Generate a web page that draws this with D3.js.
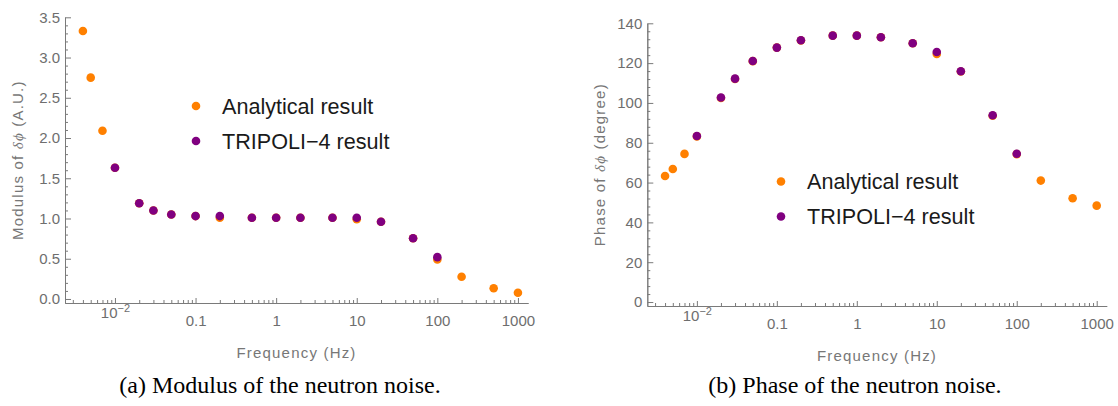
<!DOCTYPE html>
<html>
<head>
<meta charset="utf-8">
<script src="https://cdn.jsdelivr.net/npm/d3@7"></script>
<style>
  body { margin: 0; background: #fff; }
  svg { display: block; }
  .tick text { font-family: "Liberation Sans", Arial, sans-serif; font-size: 15px; fill: #6e6e6e; }
</style>
</head>
<body>
<div id="chart"></div>
<script>
// frequencies (Hz)
var freq = [0.004, 0.005, 0.007, 0.01, 0.02, 0.03, 0.05, 0.1, 0.2, 0.5, 1, 2, 5, 10, 20, 50, 100, 200, 500, 1000];
var tripoliFreq = [0.01, 0.02, 0.03, 0.05, 0.1, 0.2, 0.5, 1, 2, 5, 10, 20, 50, 100];

// modulus of delta phi (A.U.)
var modAnalytical = [3.33, 2.75, 2.09, 1.63, 1.19, 1.10, 1.05, 1.03, 1.01, 1.01, 1.01, 1.01, 1.01, 0.99, 0.96, 0.754, 0.49, 0.277, 0.133, 0.078];
var modTripoli = [1.63, 1.19, 1.10, 1.05, 1.03, 1.03, 1.01, 1.01, 1.01, 1.01, 1.01, 0.96, 0.754, 0.52];

// phase of delta phi (degree)
var phaseAnalytical = [63.3, 66.8, 74.4, 83.2, 102.5, 112.0, 121.0, 127.8, 131.4, 133.8, 133.8, 133.0, 130.0, 124.6, 115.8, 93.6, 74.3, 61.0, 52.1, 48.4];
var phaseTripoli = [83.4, 102.7, 112.2, 121.1, 127.8, 131.5, 133.8, 133.8, 133.0, 130.0, 125.6, 115.9, 93.8, 74.5];

var xMajor = [0.01, 0.1, 1, 10, 100, 1000];
var xLabels = ["10-2", "0.1", "1", "10", "100", "1000"];
var modTicks = [0, 0.5, 1, 1.5, 2, 2.5, 3, 3.5];
var phaseTicks = [0, 20, 40, 60, 80, 100, 120, 140];
var seriesNames = ["Analytical result", "TRIPOLI\u22124 result"];
var captions = ["(a)  Modulus of the neutron noise.", "(b)  Phase of the neutron noise."];

var orange = "#ff8000", purple = "#800080", axisGray = "#7a7a7a", labelGray = "#777";

var svg = d3.select("#chart").append("svg")
    .attr("width", 1118)
    .attr("height", 406);

// minor log ticks 2..9 per decade
var xMinor = [];
for (var e = -3; e <= 2; e++) {
  for (var m = 2; m <= 9; m++) {
    var v = m * Math.pow(10, e);
    if (v > 0.0025 && v < 1300) xMinor.push(v);
  }
}

function drawPanel(p) {
  var g = svg.append("g");

  var x = d3.scaleLog()
      .domain([Math.pow(10, -2.62), Math.pow(10, 3.125)])
      .range([p.left, p.right]);
  var y = d3.scaleLinear()
      .domain(p.yDomain)
      .range([p.bottom, p.top]);

  // x axis minor + major
  g.append("g")
      .attr("transform", "translate(0," + p.bottom + ")")
      .call(d3.axisBottom(x).tickValues(xMinor).tickSize(-3).tickSizeOuter(0).tickFormat(""));
  var xa = g.append("g")
      .attr("transform", "translate(0," + p.bottom + ")")
      .call(d3.axisBottom(x).tickValues(xMajor).tickSize(-5).tickSizeOuter(0).tickPadding(12)
        .tickFormat(function(d, i) { return xLabels[i]; }));
  xa.selectAll(".tick text").filter(function(d) { return d === 0.01; })
      .text(null)
      .call(function(t) {
        t.append("tspan").attr("dy", "0.2em").text("10");
        t.append("tspan").attr("dy", "-0.55em").attr("font-size", "11px").text("\u22122");
      });

  // y axis minor + major
  g.append("g")
      .attr("transform", "translate(" + p.left + ",0)")
      .call(d3.axisLeft(y).tickValues(p.yMinor).tickSize(-3).tickSizeOuter(0).tickFormat(""));
  g.append("g")
      .attr("transform", "translate(" + p.left + ",0)")
      .call(d3.axisLeft(y).tickValues(p.yTicks).tickSize(-6).tickSizeOuter(0).tickPadding(5)
        .tickFormat(p.yFormat));

  g.selectAll(".domain, .tick line").attr("stroke", axisGray);

  // axis titles
  g.append("text")
      .attr("x", (p.left + p.right) / 2)
      .attr("y", p.bottom + 55)
      .attr("text-anchor", "middle")
      .attr("font-family", "Liberation Sans, Arial, sans-serif")
      .attr("font-size", 15)
      .attr("letter-spacing", 1.2)
      .attr("fill", labelGray)
      .text("Frequency (Hz)");

  var yt = g.append("text")
      .attr("transform", "translate(" + (p.left - 42) + "," + ((p.top + p.bottom) / 2) + ") rotate(-90)")
      .attr("text-anchor", "middle")
      .attr("font-family", "Liberation Sans, Arial, sans-serif")
      .attr("font-size", 15)
      .attr("letter-spacing", 1.2)
      .attr("fill", labelGray);
  yt.append("tspan").text(p.yTitle[0]);
  yt.append("tspan").attr("font-style", "italic").attr("font-family", "Liberation Serif, serif").text("\u03b4\u03d5");
  yt.append("tspan").text(p.yTitle[1]);

  // analytical first, tripoli on top
  g.append("g").selectAll("circle")
      .data(freq.map(function(f, i) { return {f: f, v: p.analytical[i]}; }))
      .enter()
      .append("circle")
      .attr("cx", function(d) { return x(d.f); })
      .attr("cy", function(d) { return y(d.v); })
      .attr("r", 4.3)
      .attr("fill", orange);
  g.append("g").selectAll("circle")
      .data(tripoliFreq.map(function(f, i) { return {f: f, v: p.tripoli[i]}; }))
      .enter()
      .append("circle")
      .attr("cx", function(d) { return x(d.f); })
      .attr("cy", function(d) { return y(d.v); })
      .attr("r", 4.3)
      .attr("fill", purple);

  // legend
  var lg = g.append("g").selectAll("g")
      .data(seriesNames)
      .enter()
      .append("g")
      .attr("transform", function(d, i) { return "translate(" + p.legend[0] + "," + (p.legend[1] + i * 35) + ")"; });
  lg.append("circle")
      .attr("r", 4.3)
      .attr("fill", function(d, i) { return i === 0 ? orange : purple; });
  lg.append("text")
      .attr("x", 26)
      .attr("y", 7.5)
      .attr("font-family", "Liberation Sans, Arial, sans-serif")
      .attr("font-size", 21.6)
      .attr("fill", "#1a1a1a")
      .text(function(d) { return d; });

  // caption
  svg.append("text")
      .attr("x", p.capX)
      .attr("y", 393)
      .attr("text-anchor", "middle")
      .attr("font-family", "Liberation Serif, Times New Roman, serif")
      .attr("font-size", 24)
      .attr("fill", "#000")
      .text(p.caption);
}

var modMinor = d3.range(0, 36).map(function(i) { return i / 10; }).filter(function(v, i) { return i % 5 !== 0; });
var phaseMinor = d3.range(0, 141, 4).filter(function(v) { return v % 20 !== 0; });

drawPanel({
  left: 65, right: 528, top: 17.3, bottom: 303,
  yDomain: [-0.05, 3.5], yTicks: modTicks, yMinor: modMinor,
  yFormat: d3.format(".1f"),
  yTitle: ["Modulus of ", " (A.U.)"],
  analytical: modAnalytical, tripoli: modTripoli,
  legend: [196, 106], caption: captions[0], capX: 280
});

drawPanel({
  left: 647.3, right: 1106.7, top: 23.3, bottom: 306,
  yDomain: [-2, 140], yTicks: phaseTicks, yMinor: phaseMinor,
  yFormat: d3.format("d"),
  yTitle: ["Phase of ", " (degree)"],
  analytical: phaseAnalytical, tripoli: phaseTripoli,
  legend: [781, 181.5], caption: captions[1], capX: 855
});
</script>
</body>
</html>
